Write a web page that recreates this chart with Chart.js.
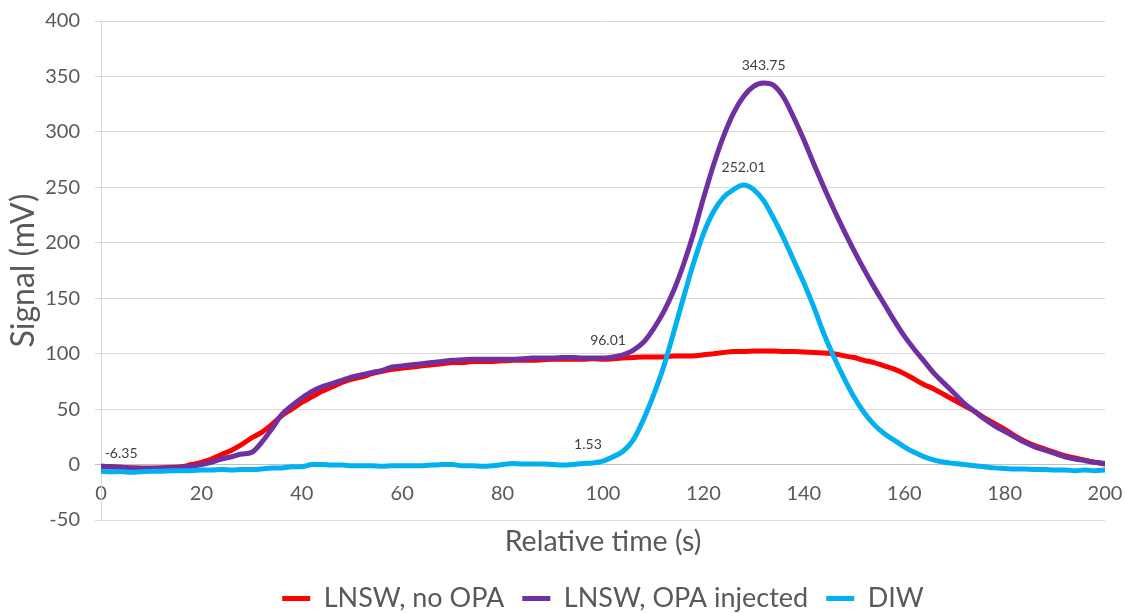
<!DOCTYPE html>
<html>
<head>
<meta charset="utf-8">
<script src="https://cdn.jsdelivr.net/npm/chart.js@4.4.1/dist/chart.umd.min.js"></script>
<style>
  html, body { margin: 0; padding: 0; background: #fff; }
  #wrap { width: 1125px; height: 613px; }
</style>
</head>
<body>
<div id="wrap"><canvas id="chart"></canvas></div>
<script>
// relative time (s), one reading every 2 s
const times = [
  0, 2, 4, 6, 8, 10, 12, 14, 16, 18,
  20, 22, 24, 26, 28, 30, 32, 34, 36, 38,
  40, 42, 44, 46, 48, 50, 52, 54, 56, 58,
  60, 62, 64, 66, 68, 70, 72, 74, 76, 78,
  80, 82, 84, 86, 88, 90, 92, 94, 96, 98,
  100, 102, 104, 106, 108, 110, 112, 114, 116, 118,
  120, 122, 124, 126, 128, 130, 132, 134, 136, 138,
  140, 142, 144, 146, 148, 150, 152, 154, 156, 158,
  160, 162, 164, 166, 168, 170, 172, 174, 176, 178,
  180, 182, 184, 186, 188, 190, 192, 194, 196, 198,
  200
];

// LNSW, no OPA
const noOpa = [
  -1.5, -2, -2.5, -3, -3, -3, -3, -2.5, -2, 0,
  2, 5, 9, 13, 18, 24, 29, 36, 44, 50,
  56, 61, 66, 70, 74, 77, 79, 82, 84, 86,
  87, 88, 89, 90, 91, 92, 92, 93, 93, 93,
  93.5, 94, 94, 94, 94.5, 95, 95, 95, 95, 95.5,
  95, 95.5, 96, 96.5, 97, 97, 97, 98, 98, 98,
  99, 100, 101, 102, 102, 102.5, 102.5, 102.5, 102, 102,
  101.5, 101, 100.5, 100, 98, 96.5, 94, 92, 89, 86,
  82, 77, 72, 68, 63, 58, 53, 48, 42, 37,
  32, 26, 21, 17, 14, 11, 8, 6, 4, 2,
  0.5
];

// LNSW, OPA injected
const opaInjected = [
  -1.5, -2, -2.5, -3, -3.5, -3.5, -3, -3, -2.5, -1.5,
  0, 2, 5, 7, 9.5, 11, 20, 32, 45, 53,
  60, 66, 70, 73, 76, 79, 81, 83, 85, 88,
  89, 90, 91, 92, 93, 94, 94.5, 95, 95, 95,
  95, 95, 95.5, 96, 96, 96, 96.5, 96.5, 96, 96,
  96, 97, 99, 103, 110, 122, 137, 156, 180, 208,
  240, 270, 296, 317, 332, 341, 344, 342, 331, 313,
  293, 271, 250, 230, 211, 193, 176, 160, 145, 130,
  116, 104, 93, 82, 73, 64, 55, 48, 41, 35,
  30, 25, 20, 16, 13, 10, 7, 5, 3.5, 2,
  1
];

// DIW
const diw = [
  -6, -6.5, -6.35, -7, -6.5, -6, -6, -5.5, -5.5, -5.5,
  -5, -5, -4.5, -5, -4.5, -4.5, -4, -3, -3, -2,
  -2, 0, 0, -0.5, -0.5, -1, -1, -1, -1.5, -1,
  -1, -1, -1, -0.5, 0, 0, -1, -1, -1.5, -1,
  0, 1, 0.5, 0.5, 0.5, 0, -0.5, 0, 1, 1.5,
  3, 7, 12, 22, 40, 62, 87, 118, 150, 181,
  208, 228, 241, 248, 252, 248, 238, 222, 204, 184,
  164, 142, 118, 97, 78, 61, 47, 36, 28, 22,
  16, 11, 7, 4, 2, 1, 0, -1, -2, -3,
  -3.5, -4, -4, -4.5, -4.5, -5, -5, -5.5, -5, -5.5,
  -5
];

// values written on the chart
const labelTimes = [4, 101, 97, 132, 128];
const labelValues = [-6.35, 96.01, 1.53, 343.75, 252.01];

const grey = '#595959';
Chart.defaults.font.family = 'Lato, "Open Sans", sans-serif';

function pairs(ys) {
  return times.map((t, i) => ({ x: t, y: ys[i] }));
}

// draws the value labels above the chosen points
const valueLabels = {
  id: 'valueLabels',
  afterDatasetsDraw(chart) {
    const { ctx, scales } = chart;
    ctx.save();
    ctx.font = '14px Lato, "Open Sans", sans-serif';
    ctx.fillStyle = '#404040';
    ctx.textAlign = 'center';
    ctx.textBaseline = 'middle';
    labelTimes.forEach((t, i) => {
      const px = scales.x.getPixelForValue(t);
      const py = scales.y.getPixelForValue(labelValues[i]);
      ctx.fillText(labelValues[i].toFixed(2), px, py - 18);
    });
    ctx.restore();
  }
};

new Chart(document.getElementById('chart'), {
  type: 'line',
  data: {
    datasets: [
      { label: 'LNSW, no OPA', data: pairs(noOpa), borderColor: '#FF0000', backgroundColor: '#FF0000', order: 3 },
      { label: 'LNSW, OPA injected', data: pairs(opaInjected), borderColor: '#7030A0', backgroundColor: '#7030A0', order: 2 },
      { label: 'DIW', data: pairs(diw), borderColor: '#00B0F0', backgroundColor: '#00B0F0', order: 1 }
    ]
  },
  options: {
    responsive: true,
    maintainAspectRatio: false,
    animation: false,
    layout: { padding: { top: 21, right: 20, bottom: -9, left: 0 } },
    elements: {
      line: { borderWidth: 5, cubicInterpolationMode: 'monotone', borderCapStyle: 'round', borderJoinStyle: 'round' },
      point: { radius: 0 }
    },
    plugins: {
      tooltip: { enabled: false },
      legend: {
        position: 'bottom',
        fullSize: false,
        labels: {
          color: grey,
          font: { size: 27 },
          boxWidth: 28,
          boxHeight: 5,
          padding: 18,
          sort: (a, b) => a.datasetIndex - b.datasetIndex,
          generateLabels(chart) {
            const items = Chart.defaults.plugins.legend.labels.generateLabels(chart);
            items.forEach(it => { it.lineWidth = 0; });
            return items;
          }
        }
      }
    },
    scales: {
      x: {
        type: 'linear',
        min: 0,
        max: 200,
        // mirrored so the labels sit just under the zero line, as in the source
        ticks: { stepSize: 20, mirror: true, padding: 0, color: grey, font: { size: 20, lineHeight: 2.6 }, maxRotation: 0, autoSkip: false },
        grid: { display: false, drawTicks: false },
        border: { display: false },
        title: { display: true, text: 'Relative time (s)', color: grey, font: { size: 28.5 }, padding: { top: 0, bottom: 8 } },
        afterFit(scale) { scale.height = 47; }
      },
      y: {
        min: -50,
        max: 400,
        ticks: { stepSize: 50, padding: 15, color: grey, font: { size: 20, lineHeight: 0.6 } },
        grid: {
          color: c => (c.tick && c.tick.value === 0 ? '#BFBFBF' : '#D9D9D9'),
          tickLength: 6
        },
        border: { color: '#D9D9D9' },
        title: { display: true, text: 'Signal (mV)', color: grey, font: { size: 32 }, padding: { top: 4, bottom: 0 } },
        afterFit(scale) { scale.width = 101; }
      }
    }
  },
  plugins: [valueLabels]
});
</script>
</body>
</html>
